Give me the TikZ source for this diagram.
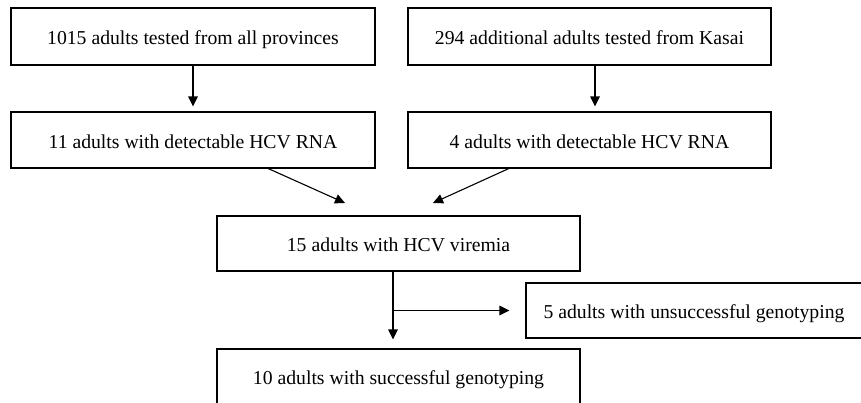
\documentclass[tikz,border=0pt]{standalone}
\usepackage{fontspec}
\setmainfont{Liberation Serif}
\usetikzlibrary{arrows.meta}
\begin{document}
\begin{tikzpicture}[x=1pt,y=-1pt,
  box/.style={draw=black,line width=1.1pt,rectangle,inner sep=0pt,
    text height=16pt,text depth=0pt,
    font=\fontsize{19.7}{22}\selectfont},
  conn/.style={line width=1.1pt,-{Triangle[length=10pt,width=9.5pt]}}]
\useasboundingbox (0,0) rectangle (861,402);
\clip (0,0) rectangle (861,402);
\node[box,minimum width=364pt,minimum height=57pt] (A) at (193,36.5) {1015 adults tested from all provinces};
\node[box,minimum width=363pt,minimum height=57pt] (B) at (589.5,36.5) {294 additional adults tested from Kasai};
\node[box,minimum width=364pt,minimum height=56pt] (C) at (193,140) {11 adults with detectable HCV RNA};
\node[box,minimum width=363pt,minimum height=56pt] (D) at (589.5,140) {4 adults with detectable HCV RNA};
\node[box,minimum width=363pt,minimum height=55pt] (E) at (398.5,243.5) {15 adults with HCV viremia};
\node[box,minimum width=336pt,minimum height=55pt] (F) at (694,310.5) {5 adults with unsuccessful genotyping};
\node[box,minimum width=363pt,minimum height=55pt] (G) at (398.5,376.5) {10 adults with successful genotyping};
\coordinate (cs) at (267,168);
\coordinate (ct) at (345,203);
\coordinate (ds) at (510,168);
\coordinate (dt) at (433,203);
\coordinate (br) at (393,310.5);
\draw[conn,shorten >=5pt] (A.south) -- (C.north);
\draw[conn,shorten >=5pt] ([xshift=5.5pt]B.south) -- ([xshift=5.5pt]D.north);
\draw[conn] (cs) -- (ct);
\draw[conn] (ds) -- (dt);
\draw[conn,shorten >=9pt] ([xshift=-5.5pt]E.south) -- ([xshift=-5.5pt]G.north);
\draw[conn,shorten >=16pt] (br) -- (F.west);
\end{tikzpicture}
\end{document}
